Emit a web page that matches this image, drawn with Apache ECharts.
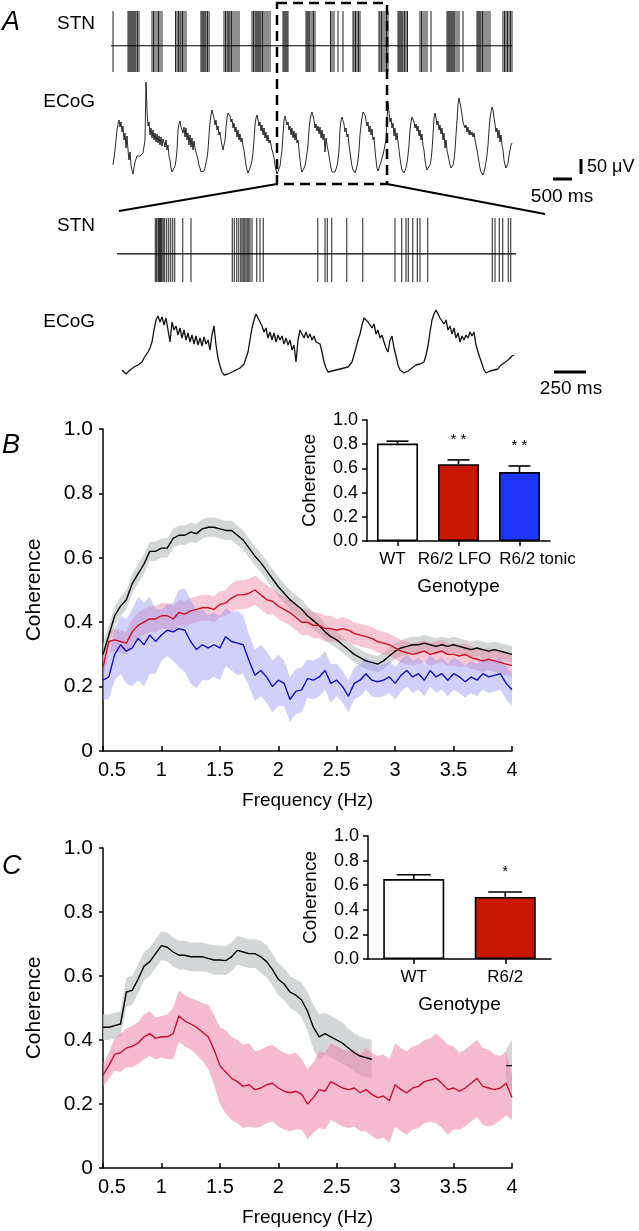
<!DOCTYPE html>
<html><head><meta charset="utf-8">
<script src="https://cdn.jsdelivr.net/npm/echarts/dist/echarts.min.js"></script>
<style>html,body{margin:0;padding:0;background:#fff}#c{width:639px;height:1231px}</style>
</head><body><div id="c"></div>
<script>
// ---------------- DATA ----------------
// Panel A: spike times (ms) and ECoG amplitude samples (arbitrary units, 1 unit ~ 3.4 uV)
const spikesTopMs = [50, 425,450,475,500,525,550,575,600,625,662,700, 1025,1062,1100,1150,1188,1225,1275,
 1612,1650,1688,1725,1750,1788,1825,1875, 2250,2275,2300,2325,2350,2375,2412,2450,
 2825,2862,2900,2925,2950,2975,3012,3050,3100,3150,3200,
 3525,3562,3600,3625,3650,3675,3700,3725,3750,3788,3825,3875,3925,3975,
 4300,4325,4350,4375,4400,4425, 4875,4900,4925,4950,4975,5025,5062,5100,
 5488,5525,5575,5675,5800, 6050,6075,6112,6150,6188,6225,
 6700,6725,6762,6800,6850,6888,6925, 7175,7200,7225,7250,7275,7300,7338,7375,7412,
 7725,7762,7800,7850,7900,8000, 8400,8425,8450,8475,8500,8525,8550,8575,8600,8650,8700,8800,
 9150,9175,9200,9225,9250,9288,9325,9375,9425,9475, 9800,9838,9875,9912,9950,9988,10025];
const spikesBottomMs = [306,317,328,334,338,344,350,354,360,370,382,398,414,430,446,462,526,592,
 922,938,958,974,990,1000,1010,1022,1032,1042,1054,1064,1080,1118,1144,1170,
 1606,1664,1682,1718,1838,1966, 2224,2278,2312,2330,2366,2402,2424,2486,
 3002,3024,3058,3086,3130,3150];
const TOP_TRACE_MS = 10025, BOTTOM_TRACE_MS = 3192;
const STN_BASELINE_TOP = 0.43, STN_BASELINE_BOTTOM = 0.44;
const ECOG_TOP_START_MS = 50, ECOG_TOP_STEP_MS = 25;
const ecogTopAmp = [
 13,20,28,38,48,54,58,51,56,46, 52,38,45,30,42,28,18,26,13,8, 4,10,16,18,22,20,21,22,21,23,
 25,26,38,96,68,52,56,43,50,40, 48,38,45,36,44,35,42,33,41,32, 39,36,31,38,28,33,22,18,10,6,
 4,6,12,18,28,48,54,57,51,53, 45,51,41,50,38,45,33,43,31,40, 28,37,30,26,22,18,13,10,6,5,
 4,7,10,15,20,28,43,56,63,68, 66,60,53,58,48,52,43,46,38,33, 28,30,38,50,60,65,66,62,56,59,
 50,55,46,51,41,48,38,44,36,40, 32,28,20,13,8,5,6,10,13,18, 25,38,53,60,63,58,52,56,47,53,
 43,50,40,46,37,43,35,38,33,28, 25,20,13,8,4,2,6,12,20,28, 43,58,62,60,53,56,48,52,43,50,
 40,47,38,45,35,38,28,18,10,6, 4,6,12,18,25,33,48,58,63,66, 64,58,50,54,47,52,44,51,40,48,
 38,44,26,40,33,28,22,16,10,6, 5,4,6,8,12,18,28,48,58,61, 60,54,46,50,41,44,33,26,18,12,
 8,6,5,8,12,18,28,43,53,60, 66,68,63,58,52,56,46,52,43,49, 38,41,28,18,10,7,9,13,16,20,
 23,28,33,38,58,75,66,56,60,50, 55,42,50,38,45,36,28,20,13,8, 6,5,6,10,15,23,33,48,56,61,
 62,56,50,54,47,52,42,48,38,44, 32,28,18,12,8,7,9,13,18,28, 43,60,65,60,53,57,48,53,44,50,
 38,45,30,38,28,23,18,13,10,10, 13,18,28,43,58,73,80,81,70,63, 56,53,50,53,46,51,43,48,43,46,
 41,45,38,33,28,22,16,10,6,4, 3,6,10,16,23,33,48,60,66,71, 68,60,54,46,50,40,48,36,43,33,
 28,18,13,10,11,15,22,28,33,35];
const ECOG_BOTTOM_START_MS = 40, ECOG_BOTTOM_STEP_MS = 16;
const ecogBottomAmp = [
 10,8,6,8,10,11,13,14,15,17, 18,22,25,28,32,38,50,60,64,58, 63,55,62,50,38,58,50,54,45,52,
 42,50,40,47,38,45,36,44,35,42, 34,43,36,40,30,45,54,35,22,14, 8,5,4,6,7,8,9,10,11,12,
 14,16,22,28,40,52,60,66,68,58, 54,48,52,42,48,40,47,38,45,40, 44,36,42,35,40,30,35,18,40,50,
 46,42,48,42,46,40,44,38,40,36, 28,18,12,8,7,9,8,10,9,11, 10,12,12,13,14,18,25,32,40,46,
 55,62,64,58,60,52,56,46,50,42, 45,38,32,28,40,44,32,24,15,10, 8,7,8,9,10,12,14,15,14,16,
 17,18,25,34,48,60,66,70,68,62, 64,56,60,50,54,46,52,42,47,38, 44,40,45,42,48,44,48,35,28,22,
 16,10,7,8,9,10,10,12,11,14, 15,17,18,20,22,24,25];

// Panels B and C: coherence spectra
const freqHz = [0.5,0.55,0.6,0.65,0.7,0.75,0.8,0.85,0.9,0.95, 1,1.05,1.1,1.15,1.2,1.25,1.3,1.35,1.4,1.45,
 1.5,1.55,1.6,1.65,1.7,1.75,1.8,1.85,1.9,1.95, 2,2.05,2.1,2.15,2.2,2.25,2.3,2.35,2.4,2.45,
 2.5,2.55,2.6,2.65,2.7,2.75,2.8,2.85,2.9,2.95, 3,3.05,3.1,3.15,3.2,3.25,3.3,3.35,3.4,3.45,
 3.5,3.55,3.6,3.65,3.7,3.75,3.8,3.85,3.9,3.95,4];
const cohB_WT_mean = [0.30,0.36,0.42,0.45,0.47,0.52,0.55,0.58,0.62,0.62, 0.63,0.63,0.66,0.67,0.67,0.68,0.675,0.69,0.695,0.695,
 0.69,0.685,0.685,0.67,0.655,0.63,0.605,0.585,0.56,0.535, 0.51,0.49,0.47,0.455,0.44,0.42,0.405,0.39,0.37,0.355,
 0.345,0.33,0.315,0.30,0.29,0.28,0.275,0.27,0.28,0.295, 0.31,0.32,0.325,0.33,0.33,0.335,0.33,0.325,0.33,0.325,
 0.33,0.325,0.32,0.315,0.32,0.315,0.31,0.315,0.31,0.305,0.30];
const cohB_WT_sem = [0.03,0.03,0.03,0.03,0.03,0.03,0.03,0.03,0.03,0.03, 0.03,0.03,0.03,0.03,0.03,0.03,0.03,0.03,0.03,0.03,
 0.03,0.03,0.03,0.03,0.03,0.03,0.03,0.03,0.03,0.03, 0.03,0.03,0.03,0.03,0.03,0.028,0.028,0.026,0.026,0.025,
 0.025,0.025,0.025,0.025,0.025,0.025,0.025,0.025,0.025,0.025, 0.025,0.025,0.025,0.025,0.025,0.025,0.025,0.025,0.025,0.025,
 0.025,0.025,0.025,0.025,0.025,0.025,0.025,0.025,0.025,0.025,0.025];
const cohB_LFO_mean = [0.26,0.34,0.345,0.34,0.335,0.37,0.39,0.40,0.41,0.41, 0.42,0.42,0.41,0.43,0.425,0.435,0.44,0.445,0.445,0.44,
 0.455,0.46,0.475,0.485,0.485,0.49,0.50,0.485,0.47,0.465, 0.45,0.44,0.43,0.415,0.40,0.40,0.39,0.39,0.38,0.38,
 0.375,0.38,0.375,0.365,0.36,0.355,0.35,0.34,0.335,0.33, 0.32,0.31,0.305,0.30,0.305,0.31,0.30,0.305,0.31,0.30,
 0.30,0.295,0.30,0.29,0.285,0.28,0.285,0.28,0.275,0.27,0.265];
const cohB_LFO_sem = [0.035,0.035,0.035,0.035,0.035,0.04,0.04,0.04,0.04,0.04, 0.04,0.04,0.04,0.04,0.04,0.04,0.04,0.04,0.04,0.04,
 0.04,0.04,0.045,0.045,0.045,0.045,0.045,0.045,0.045,0.04, 0.04,0.04,0.04,0.04,0.04,0.04,0.04,0.04,0.04,0.04,
 0.035,0.035,0.035,0.035,0.035,0.035,0.035,0.035,0.035,0.035, 0.035,0.035,0.035,0.035,0.035,0.035,0.035,0.035,0.035,0.035,
 0.035,0.035,0.035,0.035,0.035,0.035,0.035,0.035,0.035,0.035,0.035];
const cohB_tonic_mean = [0.22,0.23,0.30,0.33,0.31,0.32,0.35,0.33,0.36,0.34, 0.36,0.375,0.37,0.38,0.375,0.34,0.315,0.33,0.32,0.33,
 0.32,0.355,0.34,0.335,0.33,0.28,0.235,0.25,0.23,0.20, 0.22,0.21,0.16,0.185,0.19,0.225,0.22,0.23,0.25,0.21,
 0.22,0.20,0.17,0.21,0.22,0.24,0.22,0.215,0.22,0.23, 0.21,0.235,0.25,0.23,0.24,0.22,0.25,0.23,0.24,0.22,
 0.24,0.23,0.215,0.23,0.22,0.24,0.23,0.235,0.24,0.21,0.19];
const cohB_tonic_sem = [0.06,0.07,0.08,0.09,0.10,0.12,0.13,0.13,0.12,0.10, 0.08,0.08,0.09,0.12,0.13,0.13,0.12,0.11,0.10,0.10,
 0.10,0.09,0.09,0.10,0.09,0.08,0.08,0.08,0.08,0.08, 0.08,0.07,0.07,0.07,0.07,0.06,0.06,0.06,0.06,0.06,
 0.05,0.05,0.05,0.05,0.05,0.05,0.05,0.05,0.05,0.05, 0.05,0.05,0.05,0.05,0.05,0.05,0.05,0.05,0.05,0.05,
 0.05,0.05,0.05,0.05,0.05,0.05,0.05,0.05,0.05,0.05,0.05];
const cohC_WT_mean = [0.44,0.44,0.445,0.45,0.55,0.555,0.59,0.63,0.645,0.67, 0.695,0.69,0.675,0.665,0.665,0.66,0.66,0.66,0.655,0.65,
 0.65,0.648,0.66,0.68,0.675,0.67,0.67,0.66,0.645,0.62, 0.59,0.575,0.55,0.54,0.525,0.49,0.44,0.41,0.42,0.41,
 0.40,0.39,0.375,0.36,0.35,0.345,0.34, null,null,null, null,null,null,null,null,null,null,null,null,null,
 null,null,null,null,null,null,null,null,null,0.32,0.32];
const cohC_WT_sem = [0.04,0.04,0.04,0.04,0.045,0.045,0.045,0.045,0.045,0.045, 0.045,0.045,0.045,0.045,0.045,0.045,0.045,0.045,0.045,0.045,
 0.045,0.045,0.045,0.045,0.045,0.045,0.045,0.05,0.05,0.05, 0.05,0.05,0.05,0.05,0.055,0.06,0.07,0.07,0.065,0.065,
 0.065,0.065,0.06,0.06,0.06,0.06,0.06, null,null,null, null,null,null,null,null,null,null,null,null,null,
 null,null,null,null,null,null,null,null,null,0.05,0.08];
const cohC_R62_mean = [0.29,0.32,0.355,0.36,0.375,0.38,0.39,0.41,0.42,0.405, 0.41,0.41,0.42,0.475,0.46,0.45,0.44,0.425,0.41,0.37,
 0.32,0.30,0.28,0.27,0.255,0.26,0.245,0.25,0.26,0.265, 0.25,0.24,0.235,0.24,0.23,0.20,0.22,0.245,0.24,0.27,
 0.26,0.25,0.245,0.25,0.235,0.245,0.23,0.22,0.225,0.21, 0.26,0.245,0.235,0.25,0.255,0.27,0.275,0.28,0.265,0.245,
 0.25,0.24,0.25,0.265,0.28,0.255,0.25,0.245,0.25,0.265,0.22];
const cohC_R62_sem = [0.035,0.04,0.05,0.06,0.06,0.065,0.065,0.07,0.07,0.065, 0.065,0.07,0.08,0.08,0.08,0.08,0.085,0.09,0.10,0.11,
 0.12,0.13,0.13,0.13,0.13,0.13,0.12,0.12,0.12,0.12, 0.12,0.12,0.12,0.12,0.11,0.11,0.11,0.12,0.12,0.12,
 0.12,0.12,0.12,0.12,0.12,0.13,0.13,0.13,0.13,0.13, 0.13,0.13,0.13,0.13,0.13,0.13,0.13,0.14,0.14,0.14,
 0.13,0.12,0.12,0.12,0.12,0.12,0.12,0.11,0.10,0.10,0.07];

// Inset bar charts
const barB_categories = ['WT', 'R6/2 LFO', 'R6/2 tonic'];
const barB_mean = [0.805, 0.635, 0.57];
const barB_sem = [0.02, 0.035, 0.05];
const barB_sig = ['', '* *', '* *'];
const barC_categories = ['WT', 'R6/2'];
const barC_mean = [0.65, 0.505];
const barC_sem = [0.035, 0.04];
const barC_sig = ['', '*'];

// ---------------- CHART ----------------
const FONT = '"Liberation Sans", Arial, Helvetica, sans-serif';
const chart = echarts.init(document.getElementById('c'), null, {renderer: 'canvas'});

function hiddenAxis(gi, min, max) { return {gridIndex: gi, type: 'value', min, max, show: false}; }

function spikeSeries(times, gi) {
  return {type: 'custom', xAxisIndex: gi, yAxisIndex: gi, silent: true, z: 3,
    data: times.map(t => [t, 0]),
    renderItem: (p, api) => {
      const a = api.coord([api.value(0), 0]);
      const b = api.coord([api.value(0), 1]);
      return {type: 'line', shape: {x1: a[0], y1: a[1], x2: b[0], y2: b[1]}, style: {stroke: '#1e1e1e', lineWidth: 1}};
    }};
}
function baselineSeries(gi, max, level) {
  return {type: 'line', xAxisIndex: gi, yAxisIndex: gi, silent: true, symbol: 'none',
    data: [[0, level], [max, level]], lineStyle: {color: '#000', width: 1.2}};
}
function traceSeries(gi, amp, start, step, width) {
  return {type: 'line', xAxisIndex: gi, yAxisIndex: gi, silent: true, symbol: 'none',
    data: amp.map((v, i) => [start + i * step, v]), lineStyle: {color: '#111', width}};
}
// mean line + shaded (mean +/- sem) band drawn through the axes' scales
function bandSeries(mean, sem, gi, bandColor, lineColor) {
  return [
    {type: 'custom', xAxisIndex: gi, yAxisIndex: gi, silent: true, z: 1, data: [[freqHz[0], mean[0]]],
      renderItem: (p, api) => {
        const segs = []; let cur = [];
        mean.forEach((m, i) => {
          if (m == null) { if (cur.length) segs.push(cur); cur = []; } else cur.push(i);
        });
        if (cur.length) segs.push(cur);
        const children = segs.filter(s => s.length > 1).map(s => {
          const up = s.map(i => api.coord([freqHz[i], mean[i] + sem[i]]));
          const lo = s.slice().reverse().map(i => api.coord([freqHz[i], mean[i] - sem[i]]));
          return {type: 'polygon', shape: {points: up.concat(lo)}, style: {fill: bandColor}};
        });
        return {type: 'group', children};
      }},
    {type: 'line', xAxisIndex: gi, yAxisIndex: gi, silent: true, symbol: 'none',
      data: mean.map((m, i) => [freqHz[i], m]), lineStyle: {color: lineColor, width: 1.4}, z: 4}
  ];
}
function errSeries(gi, mean, sem, sig, capHalf) {
  return {type: 'custom', xAxisIndex: gi, yAxisIndex: gi, silent: true, z: 5,
    data: mean.map((m, i) => [i, m, sem[i]]),
    renderItem: (p, api) => {
      const i = api.value(0), m = api.value(1), e = api.value(2);
      const b = api.coord([i, m]), t = api.coord([i, m + e]);
      return {type: 'group', children: [
        {type: 'line', shape: {x1: b[0], y1: b[1], x2: t[0], y2: t[1]}, style: {stroke: '#000', lineWidth: 1.6}},
        {type: 'line', shape: {x1: t[0] - capHalf, y1: t[1], x2: t[0] + capHalf, y2: t[1]}, style: {stroke: '#000', lineWidth: 1.6}},
        {type: 'text', x: t[0], y: t[1] - 20, style: {text: sig[p.dataIndex], align: 'center', verticalAlign: 'middle',
          textAlign: 'center', textVerticalAlign: 'middle', font: '15px ' + FONT, fill: '#000'}}
      ]};
    }};
}
const axLine = {show: true, onZero: false, lineStyle: {color: '#000', width: 1.5}};
function mainX(gi) {
  return {gridIndex: gi, type: 'value', min: 0.5, max: 4, interval: 0.5,
    axisLine: axLine, axisTick: {show: true, inside: true, length: 5, lineStyle: {color: '#000', width: 1.5}},
    splitLine: {show: false},
    axisLabel: {color: '#000', fontSize: 20, margin: 9, fontFamily: FONT,
      formatter: v => v === 0.5 ? '{p|0.5}' : String(v),
      rich: {p: {padding: [0, 0, 0, 18], fontSize: 20, color: '#000', fontFamily: FONT}}},
    name: 'Frequency (Hz)', nameLocation: 'middle', nameGap: 40,
    nameTextStyle: {color: '#000', fontSize: 19, fontFamily: FONT}};
}
function mainY(gi) {
  return {gridIndex: gi, type: 'value', min: 0, max: 1, interval: 0.2,
    axisLine: axLine, axisTick: {show: true, length: 4, lineStyle: {color: '#000', width: 1.5}},
    splitLine: {show: false},
    axisLabel: {color: '#000', fontSize: 21, margin: 10, fontFamily: FONT, formatter: v => v === 0 ? '0' : v.toFixed(1)},
    name: 'Coherence', nameLocation: 'middle', nameGap: 58, nameRotate: 90,
    nameTextStyle: {color: '#000', fontSize: 21, fontFamily: FONT}};
}
// per-label horizontal nudges (rich padding) to mimic the reference label placement
const catRich = {
  l: {padding: [0, 10, 0, 0], fontSize: 17, color: '#000', fontFamily: FONT},
  m: {padding: [0, 8, 0, 0], fontSize: 17, color: '#000', fontFamily: FONT},
  r: {padding: [0, 0, 0, 36], fontSize: 17, color: '#000', fontFamily: FONT},
  n: {fontSize: 17, color: '#000', fontFamily: FONT}
};
function insetX(gi, cats, styles) {
  return {gridIndex: gi, type: 'category', data: cats,
    axisLine: axLine, axisTick: {show: true, alignWithLabel: true, length: 5, lineStyle: {color: '#000', width: 1.5}},
    axisLabel: {color: '#000', fontSize: 17, margin: 10, fontFamily: FONT, interval: 0, hideOverlap: false,
      formatter: (v, i) => '{' + styles[i] + '|' + v + '}', rich: catRich},
    name: 'Genotype', nameLocation: 'middle', nameGap: 36,
    nameTextStyle: {color: '#000', fontSize: 19, fontFamily: FONT}};
}
function insetY(gi) {
  return {gridIndex: gi, type: 'value', min: 0, max: 1, interval: 0.2,
    axisLine: axLine, axisTick: {show: true, length: 5, lineStyle: {color: '#000', width: 1.5}},
    splitLine: {show: false},
    axisLabel: {color: '#000', fontSize: 18, margin: 9, fontFamily: FONT, formatter: v => v.toFixed(1)},
    name: 'Coherence', nameLocation: 'middle', nameGap: 48, nameRotate: 90,
    nameTextStyle: {color: '#000', fontSize: 19, fontFamily: FONT}};
}
function barSeries(gi, mean, colors, bw) {
  return {type: 'bar', xAxisIndex: gi, yAxisIndex: gi, silent: true, barWidth: bw, z: 3,
    data: mean.map((m, i) => ({value: m, itemStyle: {color: colors[i], borderColor: '#000', borderWidth: 1.6}}))};
}

function txt(x, y, text, size, align, italic) {
  return {type: 'text', x, y, z: 20, style: {text, font: (italic ? 'italic ' : '') + size + 'px ' + FONT, fill: '#000',
    align: align, verticalAlign: 'middle', textAlign: align, textVerticalAlign: 'middle'}};
}
function seg(x1, y1, x2, y2, w) {
  return {type: 'line', z: 20, shape: {x1, y1, x2, y2}, style: {stroke: '#000', lineWidth: w}};
}

const option = {
  animation: false,
  textStyle: {fontFamily: FONT, color: '#000'},
  grid: [
    {left: 111, top: 11, width: 401, height: 61},
    {left: 111, top: 78, width: 401, height: 100},
    {left: 117, top: 218, width: 399, height: 64},
    {left: 117, top: 300, width: 399, height: 80},
    {left: 103, top: 429, width: 409, height: 322},
    {left: 367, top: 420, width: 183, height: 121},
    {left: 103, top: 848, width: 409, height: 320},
    {left: 368, top: 836, width: 183, height: 123}
  ],
  xAxis: [
    hiddenAxis(0, 0, TOP_TRACE_MS), hiddenAxis(1, 0, TOP_TRACE_MS),
    hiddenAxis(2, 0, BOTTOM_TRACE_MS), hiddenAxis(3, 0, BOTTOM_TRACE_MS),
    mainX(4), insetX(5, barB_categories, ['l', 'm', 'r']), mainX(6), insetX(7, barC_categories, ['n', 'n'])
  ],
  yAxis: [
    hiddenAxis(0, 0, 1), hiddenAxis(1, 0, 100), hiddenAxis(2, 0, 1), hiddenAxis(3, 0, 80),
    mainY(4), insetY(5), mainY(6), insetY(7)
  ],
  series: [
    spikeSeries(spikesTopMs, 0), baselineSeries(0, TOP_TRACE_MS, STN_BASELINE_TOP),
    traceSeries(1, ecogTopAmp, ECOG_TOP_START_MS, ECOG_TOP_STEP_MS, 0.9),
    spikeSeries(spikesBottomMs, 2), baselineSeries(2, BOTTOM_TRACE_MS, STN_BASELINE_BOTTOM),
    traceSeries(3, ecogBottomAmp, ECOG_BOTTOM_START_MS, ECOG_BOTTOM_STEP_MS, 1.3),
    ...bandSeries(cohB_WT_mean, cohB_WT_sem, 4, 'rgba(196,202,202,0.75)', '#000'),
    ...bandSeries(cohB_LFO_mean, cohB_LFO_sem, 4, 'rgba(236,130,160,0.45)', '#d01020'),
    ...bandSeries(cohB_tonic_mean, cohB_tonic_sem, 4, 'rgba(150,150,245,0.45)', '#1010c8'),
    barSeries(5, barB_mean, ['#ffffff', '#c91800', '#2035fb'], 41),
    errSeries(5, barB_mean, barB_sem, barB_sig, 11),
    ...bandSeries(cohC_WT_mean, cohC_WT_sem, 6, 'rgba(196,202,202,0.75)', '#000'),
    ...bandSeries(cohC_R62_mean, cohC_R62_sem, 6, 'rgba(236,130,170,0.55)', '#c8102e'),
    barSeries(7, barC_mean, ['#ffffff', '#c91800'], 61),
    errSeries(7, barC_mean, barC_sem, barC_sig, 17)
  ],
  graphic: [
    txt(2, 22, 'A', 27, 'left', true),
    txt(2, 445, 'B', 27, 'left', true),
    txt(2, 866, 'C', 27, 'left', true),
    txt(95, 24, 'STN', 19, 'right'),
    txt(95, 102, 'ECoG', 19, 'right'),
    txt(95, 226, 'STN', 19, 'right'),
    txt(95, 322, 'ECoG', 19, 'right'),
    {type: 'rect', z: 20, shape: {x: 277, y: 3, width: 110, height: 181},
      style: {fill: 'none', stroke: '#000', lineWidth: 2.5, lineDash: [10, 6]}},
    seg(277, 184, 119, 211, 2),
    seg(387, 184, 545, 214, 2),
    seg(581, 159, 581, 174, 3),
    seg(553, 179, 572, 179, 3),
    txt(587, 167, '50 μV', 18, 'left'),
    txt(562, 197, '500 ms', 19, 'center'),
    seg(554, 372, 586, 372, 3),
    txt(571, 389, '250 ms', 19, 'center')
  ]
};
chart.setOption(option);
</script></body></html>
